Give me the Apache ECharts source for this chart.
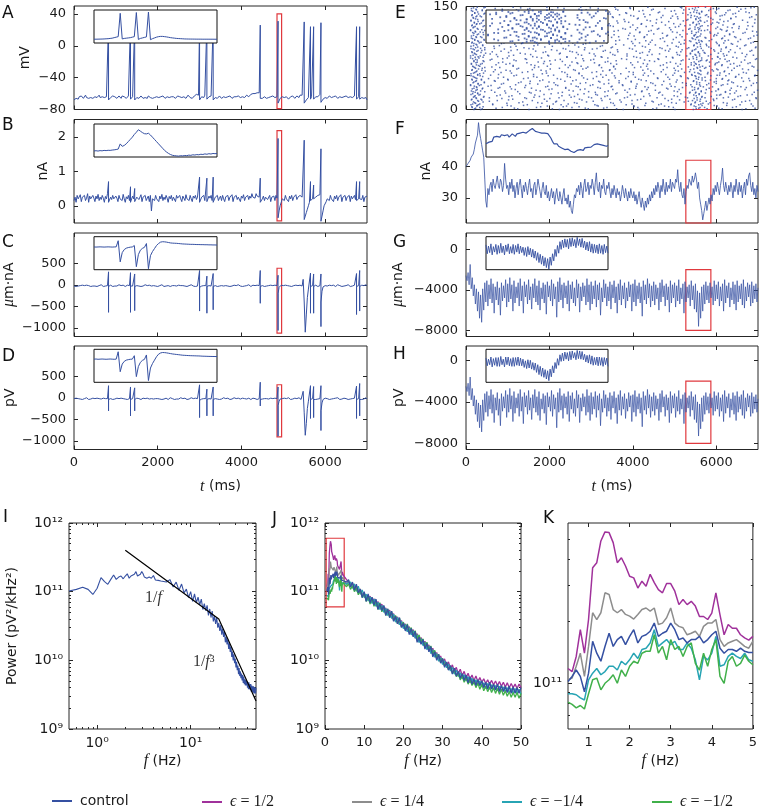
<!DOCTYPE html>
<html>
<head>
<meta charset="utf-8">
<script src="https://cdn.jsdelivr.net/npm/echarts@6.0.0/dist/echarts.min.js"></script>
<style>
html,body{margin:0;padding:0;background:#fff;}
#chart{width:760px;height:809px;}
</style>
</head>
<body>
<div id="chart"></div>
<script>
// ======================= DATA =======================
const DT = 25; // ms between samples of the time traces (0 .. 7000 ms)

// A: membrane potential (mV) between spikes; spikesA: [time ms, peak mV]
const vA = [
-68,-70,-66,-65,-67,-64,-66,-63,-65,-66,-64,-62,-65,-67,-66,-64,-65,-63,-66,-65,
-64,-66,-65,-63,-62,-65,-66,-64,-63,-65,-66,-64,-63,-68,-67,-65,-64,-63,-62,-64,
-65,-66,-64,-63,-65,-66,-63,-62,-64,-65,-66,-64,-63,-62,-67,-66,-64,-62,-68,-67,
-65,-64,-66,-65,-63,-64,-66,-67,-65,-64,-66,-63,-64,-65,-67,-66,-64,-65,-66,-64,
-63,-65,-66,-64,-65,-63,-64,-66,-65,-64,-63,-65,-66,-64,-62,-64,-65,-66,-64,-63,
-65,-64,-66,-65,-63,-64,-65,-66,-64,-62,-63,-65,-64,-66,-65,-63,-62,-61,-63,-62,
-68,-66,-64,-63,-65,-62,-63,-67,-66,-64,-65,-63,-64,-68,-67,-65,-64,-66,-65,-63,
-64,-66,-65,-64,-63,-65,-66,-64,-65,-63,-64,-66,-65,-64,-62,-64,-65,-63,-64,-65,
-66,-64,-63,-65,-64,-62,-63,-64,-62,-61,-62,-60,-59,-60,-58,-59,-60,-59,-66,-64,
-66,-65,-64,-65,-66,-64,-65,-66,-64,-65,-63,-64,-65,-66,-64,-72,-70,-66,-65,-64,
-63,-65,-66,-64,-65,-67,-66,-64,-65,-63,-64,-66,-65,-63,-64,-65,-62,-63,-62,-61,
-72,-70,-68,-67,-65,-63,-67,-64,-62,-67,-66,-64,-63,-64,-62,-61,-71,-69,-67,-66,
-65,-64,-66,-65,-63,-64,-65,-66,-64,-65,-63,-64,-66,-65,-64,-63,-65,-66,-64,-65,
-63,-64,-65,-66,-64,-63,-65,-64,-63,-62,-67,-65,-64,-67,-66,-65,-64,-66,-67,-65,-68];
const spikesA = [[825,30],[1350,30],[1450,30],[3000,30],[3175,30],[3325,30],[4450,26],[4875,31],[5500,30],[5650,24],[5725,24],[5900,29],[6750,24],[6825,24]];

// B: transmembrane current (nA); spikesB: [time, peak]
const vB = [
.15,.25,.1,.3,.2,.18,.32,.12,.25,.2,.3,.15,.22,.35,.1,.28,.2,.15,.3,.22,
.12,.28,.2,.33,.15,.25,.18,.3,.22,.1,.27,.2,.35,.1,.1,.25,.18,.3,.2,.15,
.28,.22,.12,.3,.2,.25,.15,.33,.2,.1,.26,.2,.3,.15,.1,.1,.28,.2,.12,.12,
.25,.3,.18,.22,.32,.12,.25,.2,.3,.15,.22,.28,.12,.3,-.15,.2,.25,.15,.3,.2,
.22,.12,.28,.2,.33,.15,.25,.18,.3,.22,.1,.27,.2,.3,.15,.25,.2,.12,.3,.22,
.18,.3,.2,.12,.28,.22,.15,.32,.2,.25,.15,.3,.2,.12,.28,.22,.3,.18,.25,.3,
.1,.1,.25,.2,.3,.15,.2,.12,.12,.28,.22,.3,.15,.1,.1,.25,.2,.3,.15,.22,
.28,.15,.3,.2,.12,.26,.22,.3,.15,.25,.2,.32,.12,.25,.22,.3,.18,.25,.2,.12,
.28,.22,.32,.15,.25,.2,.3,.18,.28,.22,.35,.25,.3,.22,.35,.28,.32,.25,.1,.1,
.2,.28,.15,.25,.3,.18,.22,.3,.12,.25,.2,.28,.15,.3,.22,-.35,-.15,0,.1,.2,
.25,.15,.3,.2,.22,.12,.28,.2,.3,.15,.25,.2,.32,.18,.25,.22,.3,.28,.25,.3,
-.4,-.3,-.2,-.1,0,.1,.15,.15,.2,.2,.2,.25,.22,.3,.28,.32,-.45,-.3,-.15,0,
.05,.12,.2,.25,.15,.3,.2,.22,.12,.28,.2,.3,.15,.25,.2,.32,.12,.25,.2,.3,
.15,.25,.22,.3,.12,.28,.2,.25,.3,.18,.15,.15,.2,.2,.25,.18,.3,.12,.25,.2,.28];
const spikesB = [[825,.7],[1350,.55],[1450,.5],[3000,.83],[3175,.8],[3325,.83],[4450,.8],[4875,1.95],[5500,1.9],[5650,.7],[5725,.6],[5900,1.65],[6750,.7],[6825,.7]];

// C: current dipole moment (um*nA); spikesC: [time, positive peak, negative peak]
const vC = [
-30,-10,-40,-20,-30,0,-20,-40,-10,-30,-20,-50,-10,-30,-20,0,-40,-20,-30,-10,
-30,-20,-40,-10,-20,-30,0,-20,-40,-10,-30,-20,-20,-40,-30,-10,-20,-40,-20,-30,
-10,-30,-20,0,-40,-20,-30,-10,-20,-40,-30,-10,-20,-20,-30,-20,-30,-20,-40,-40,
-20,-10,-30,-20,-40,-10,-30,-20,0,-30,-20,-40,-10,-20,-30,-50,-20,-10,-30,-20,
-40,-10,-20,-30,0,-20,-40,-20,-30,-10,-20,-30,-40,-10,-20,-30,-20,0,-30,-20,
-10,-30,-20,-40,-20,-10,-30,-20,-40,-10,-20,-30,0,-20,-30,-10,-40,-20,-30,-20,
-60,-80,-30,-10,-20,-30,-20,-40,-40,-20,-10,-30,-20,-40,-30,-20,-10,-40,-20,-30,
-10,-20,-40,-30,-10,-20,0,-30,-20,-40,-10,-30,-20,-10,-40,-20,-30,0,-20,-30,
-10,-40,-20,-30,-10,-20,-30,0,-20,-40,-20,-10,-30,-20,-40,-10,-20,-20,-40,-30,
-20,-10,-40,-20,-30,0,-20,-30,-10,-40,-20,-30,-10,-20,-20,-200,-60,-20,-10,-30,
-20,-40,-10,-30,-20,0,-30,-20,-40,-10,-20,-30,-10,-40,-20,-30,-10,-20,-30,125,
-400,-1100,-700,-300,-100,-60,-40,-40,-20,-40,-30,-10,-20,-40,-20,-20,-400,-150,-50,-20,
-20,0,-30,-20,-10,-40,-20,-30,-10,-20,-40,-20,0,-30,-20,-10,-40,-20,-30,-10,
-20,-30,0,-20,-40,-10,-30,-20,-10,-20,-40,-30,-20,-40,-20,-10,-40,-20,-30,0,-20];
const spikesC = [[825,300,-640],[1350,280,-640],[1450,250,-600],[3000,330,-610],[3175,200,-660],[3325,260,-580],[4450,330,-430],[4875,220,-1060],[5650,270,-660],[5725,250,-660],[5900,250,-970],[6750,260,-690],[6825,330,-610]];

// D: extracellular potential (pV); spikesD: [time, positive peak, negative peak]
const vD = [
-20,-40,-10,-30,-20,0,-30,-20,-40,-10,-20,-30,0,-20,-40,-10,-30,-20,-10,-30,
-20,-40,-10,-30,-20,0,-30,-20,-10,-40,-20,-30,-20,-40,-30,-20,-10,-40,-20,-30,
-20,-10,-30,-20,-40,-10,-30,-20,0,-30,-20,-40,-10,-20,-40,-40,-20,-20,-40,-30,
-10,-30,-20,0,-40,-20,-10,-30,-20,-40,-10,-20,-30,0,-20,-40,-30,-10,-20,-30,
-20,0,-30,-20,-40,-10,-30,-20,-10,-30,-40,-20,0,-30,-20,-10,-40,-20,-30,-10,
-30,-20,0,-40,-20,-30,-10,-20,-40,-10,-30,-20,0,-30,-20,-40,-10,-30,-20,-20,
-60,-60,-30,-10,-20,-40,-20,-40,-30,-20,-10,-30,-20,-40,-40,-20,-10,-30,-20,-40,
-10,-30,-20,0,-40,-20,-30,-10,-20,-40,-10,-30,-20,0,-30,-20,-40,-10,-20,-30,
-20,-10,-40,-20,0,-30,-20,-10,-30,-40,-20,-10,-30,-20,-10,-40,-20,-20,-40,-20,
-30,-10,-20,-40,-20,0,-30,-20,-10,-40,-20,-30,-10,-20,-20,-180,-80,-30,-10,-20,
-30,-10,-40,-20,-30,0,-20,-40,-10,-30,-20,-10,-40,-20,-30,0,-20,-40,-10,150,
-350,-870,-600,-250,-80,-50,-40,-30,-20,-40,-20,-40,-10,-30,-20,-20,-300,-120,-40,-20,
-10,-30,-20,0,-40,-20,-30,-10,-20,-40,-10,-30,0,-20,-40,-10,-30,-20,-10,-30,
-20,0,-40,-20,-30,-10,-20,-40,-10,-20,-40,-30,-20,-40,-20,-40,-10,-30,-20,0,-30];
const spikesD = [[825,280,-305],[1350,250,-420],[1450,230,-305],[3000,300,-460],[3175,200,-420],[3325,250,-420],[4450,360,-190],[4875,250,-890],[5650,280,-480],[5725,260,-460],[5900,280,-760],[6750,270,-480],[6825,330,-420]];

// F: summed synaptic current of the network (nA)
const vF = [
40,39.5,41,40.5,42,43,42.5,44,45.5,47.5,48,50,54,51,49,47,45,43,36,29,
27,33,31,34,35,32,36,34,33,35,37,34,33,36,35,32,34,41,36,33,
34,31,35,33,36,32,34,30,33,35,31,34,36,33,30,34,32,35,33,31,
34,36,32,33,30,34,35,31,33,36,34,32,30,33,35,32,31,34,30,32,
29,31,33,30,32,28,31,33,30,29,32,30,28,31,33,29,30,28,31,27,
29,26,25,28,31,30,33,32,34,31,35,33,30,34,36,32,33,35,31,34,
33,36,34,31,35,38,33,32,35,30,34,33,36,32,31,34,33,35,32,30,
33,31,34,32,30,33,31,32,29,31,34,32,30,33,31,29,32,30,33,31,
30,32,29,31,28,30,32,29,27,30,28,26,29,27,30,28,31,29,32,30,
33,31,34,32,35,33,30,34,32,36,33,31,35,32,34,33,36,32,35,34,
33,36,35,39,34,32,35,31,30,33,28,32,34,33,36,35,34,37,35,36,
38,36,33,35,30,28,26,23,25,27,29,26,28,30,28,31,29,33,31,34,
32,35,33,31,34,36,39.5,34,32,35,33,31,34,32,35,33,30,34,32,36,
33,31,35,32,34,30,33,35,31,36,34,37,38,34,32,35,31,33,30,34,32];

// G: network current dipole moment (um*nA)
const vG = [
-2600,-3100,-2300,-3500,-1500,-3900,-2800,-4600,-3500,-5400,-3900,-6100,-4200,-6800,-4500,-7200,-3900,-6000,-3300,-5200,
-3100,-5600,-3500,-4900,-2900,-5300,-3400,-6300,-3700,-5000,-3200,-5500,-3800,-6500,-3300,-5100,-3600,-4800,-3000,-5700,
-3400,-5200,-2800,-4900,-3500,-6100,-3100,-5300,-3700,-4800,-3300,-5600,-2900,-5100,-3600,-6300,-3200,-4700,-3500,-5400,
-3000,-5000,-3700,-5900,-3400,-4800,-2900,-5200,-3600,-5500,-3100,-6000,-3800,-4900,-3300,-5300,-3500,-6400,-3200,-4700,
-3600,-5100,-3000,-5600,-3400,-4900,-3700,-6700,-3200,-5200,-2800,-5000,-3500,-5800,-3300,-4800,-3600,-5400,-3100,-6100,
-3500,-4900,-3200,-5300,-3800,-5600,-3000,-4800,-3400,-6200,-3700,-5100,-3300,-4700,-3600,-5500,-2900,-5200,-3500,-6000,
-3200,-5400,-3600,-4900,-3100,-5700,-3500,-5000,-3300,-6500,-3800,-5200,-3000,-4800,-3400,-5600,-3700,-5100,-3200,-5900,
-3500,-4800,-3100,-5300,-3700,-6300,-3400,-5000,-3000,-5500,-3600,-4900,-3300,-5800,-3800,-5100,-3200,-4700,-3500,-6100,
-3400,-5200,-3000,-5600,-3600,-4900,-3300,-5300,-3700,-6600,-3100,-5000,-3500,-5400,-2900,-4800,-3400,-5700,-3600,-5100,
-3200,-5500,-3500,-4900,-3800,-6000,-3300,-5200,-3000,-4700,-3600,-5600,-3400,-5000,-3700,-6200,-3100,-5300,-3500,-4800,
-3300,-5700,-3600,-5100,-3000,-5400,-3800,-4900,-3400,-6300,-3200,-5200,-3700,-4800,-3500,-5600,-3100,-5000,-3600,-5900,
-3400,-6200,-4100,-7600,-4300,-6800,-3700,-6100,-3500,-5400,-3200,-5000,-3600,-5300,-3300,-4800,-3700,-5500,-3100,-5100,
-3500,-4900,-3200,-5600,-3700,-5100,-3400,-6100,-3000,-5300,-3600,-4800,-3300,-5700,-3800,-5000,-3200,-5400,-3500,-6000,
-3100,-5200,-3600,-4900,-3400,-5500,-3000,-5800,-3700,-5100,-3300,-4700,-3500,-5600,-3200,-5300,-3600,-4900,-3400,-5200,-3800];

// H: network extracellular potential (pV)
const vH = [
-2500,-3000,-2200,-3400,-1600,-3800,-2700,-4400,-3400,-5200,-3800,-5900,-4100,-6500,-4300,-6900,-3800,-5800,-3200,-5000,
-3000,-5400,-3400,-4700,-2800,-5100,-3300,-6000,-3600,-4800,-3100,-5300,-3700,-6300,-3200,-4900,-3500,-4600,-2900,-5500,
-3300,-5000,-2700,-4700,-3400,-5900,-3000,-5100,-3600,-4600,-3200,-5400,-2800,-4900,-3500,-6100,-3100,-4500,-3400,-5200,
-2900,-4800,-3600,-5700,-3300,-4600,-2800,-5000,-3500,-5300,-3000,-5800,-3700,-4700,-3200,-5100,-3400,-6200,-3100,-4500,
-3500,-4900,-2900,-5400,-3300,-4700,-3600,-6500,-3100,-5000,-2700,-4800,-3400,-5600,-3200,-4600,-3500,-5200,-3000,-5900,
-3400,-4700,-3100,-5100,-3700,-5400,-2900,-4600,-3300,-6000,-3600,-4900,-3200,-4500,-3500,-5300,-2800,-5000,-3400,-5800,
-3100,-5200,-3500,-4700,-3000,-5500,-3400,-4800,-3200,-6300,-3700,-5000,-2900,-4600,-3300,-5400,-3600,-4900,-3100,-5700,
-3400,-4600,-3000,-5100,-3600,-6100,-3300,-4800,-2900,-5300,-3500,-4700,-3200,-5600,-3700,-4900,-3100,-4500,-3400,-5900,
-3300,-5000,-2900,-5400,-3500,-4700,-3200,-5100,-3600,-6400,-3000,-4800,-3400,-5200,-2800,-4600,-3300,-5500,-3500,-4900,
-3100,-5300,-3400,-4700,-3700,-5800,-3200,-5000,-2900,-4500,-3500,-5400,-3300,-4800,-3600,-6000,-3000,-5100,-3400,-4600,
-3200,-5500,-3500,-4900,-2900,-5200,-3700,-4700,-3300,-6100,-3100,-5000,-3600,-4600,-3400,-5400,-3000,-4800,-3500,-5700,
-3300,-6000,-4000,-7300,-4200,-6600,-3600,-5900,-3400,-5200,-3100,-4800,-3500,-5100,-3200,-4600,-3600,-5300,-3000,-4900,
-3400,-4700,-3100,-5400,-3600,-4900,-3300,-5900,-2900,-5100,-3500,-4600,-3200,-5500,-3700,-4800,-3100,-5200,-3400,-5800,
-3000,-5000,-3500,-4700,-3300,-5300,-2900,-5600,-3600,-4900,-3200,-4500,-3400,-5400,-3100,-5100,-3500,-4700,-3300,-5000,-3700];

// Insets (magnified red-box windows), uniformly sampled across the inset width
const insA = [-65,-65,-64.8,-64.6,-64.4,-64,-63.5,-63,-62,-61,-59,-57,-55,37,-64,-62,-61,-60,-59,-57,
-55,40,-66,-62,-60,-58,-56,42,-67,-63,-60,-57,-55,-54,-54,-55,-56,-57.5,-59,-60,
-61,-62,-62.5,-63,-63.5,-64,-64.2,-64.4,-64.5,-64.6,-64.7,-64.8,-64.8,-64.9,-65,-65,-65,-65,-65.1,-65.1,
-65.2,-65.2];
const insB = [0.05,0.07,0.04,0.08,0.06,0.1,0.08,0.11,0.1,0.13,0.15,0.18,0.22,0.69,0.47,0.55,0.7,0.9,1.1,1.3,
1.55,1.75,1.98,1.85,1.72,1.62,1.6,1.66,1.5,1.3,1.1,0.9,0.7,0.5,0.3,0.1,-0.05,-0.18,-0.28,-0.35,
-0.38,-0.4,-0.42,-0.38,-0.4,-0.36,-0.38,-0.33,-0.35,-0.3,-0.32,-0.28,-0.3,-0.25,-0.27,-0.22,-0.25,-0.2,-0.23,-0.18,
-0.2,-0.18];
const insC = [-20,-25,-20,-15,-20,-25,-20,-15,-20,-25,-20,-15,290,-760,-300,-150,-80,-50,-30,-20,
50,-1000,-400,-180,-90,-40,150,-1100,-450,-250,-100,50,150,220,240,235,220,200,180,170,
165,160,150,140,130,125,120,115,110,110,105,100,100,95,95,90,90,85,85,80,
80,75];
const insD = [-20,-15,-25,-20,-15,-20,-25,-20,-15,-20,-25,-20,280,-530,-220,-110,-60,-40,-25,-20,
120,-730,-320,-150,-70,-30,150,-890,-380,-200,-60,80,180,230,250,245,235,220,205,190,
180,170,160,150,140,135,130,125,120,118,115,112,110,105,100,98,95,92,90,88,
87,85];
const insF = [30,29.5,31,32,31.5,34,33.5,34.5,35,34,35.5,36,35,34.5,35.5,34,35,36,35.5,34.5,
36,35,36.5,35.5,37,36,36.5,37.5,38,38.5,39.3,38.5,37.5,38,37,37.5,36.5,37,36.5,36,
36.2,35,33.5,31.5,30,29,30,28.5,28,27.5,28,26.5,27.5,26.8,26,25.5,26,24.7,25.5,26,
25,26.5,27,26,27.5,27,27.8,28.5,28,29,29.5,29,30,30.5,29.5,30,29,29.5,28.5,29];
const insG = [-3500,-5100,-3700,-4900,-3300,-5300,-3800,-4800,-3400,-5200,-3600,-5000,-3200,-4900,-3700,-5300,-3500,-4700,-3300,-5100,
-3800,-5000,-3400,-5200,-3600,-4800,-3300,-5100,-3700,-4900,-3900,-5400,-4000,-5600,-3800,-5300,-4100,-5700,-4300,-5900,
-4600,-6300,-4900,-6700,-5200,-7000,-5500,-7300,-5800,-7600,-6000,-7900,-5700,-7200,-5100,-6400,-4300,-5600,-3600,-5000,
-2900,-4300,-2600,-4000,-2400,-3900,-2500,-4200,-2300,-3800,-2200,-3700,-2500,-4000,-2100,-3600,-2400,-3900,-2300,-4000,
-2800,-4400,-3000,-4600,-2900,-4800,-3300,-5000,-3400,-4900,-3500,-5100,-3300,-5000,-3600,-5200,-3400,-4900,-3700,-5000];
const insH = [-3600,-5000,-3800,-4800,-3400,-5200,-3700,-4900,-3500,-5100,-3500,-5100,-3300,-4800,-3800,-5200,-3400,-4800,-3400,-5000,
-3700,-5100,-3500,-5100,-3500,-4900,-3400,-5000,-3600,-5000,-3800,-5300,-4100,-5500,-3900,-5400,-4000,-5600,-4400,-5800,
-4500,-6200,-4800,-6600,-5100,-6900,-5400,-7100,-5700,-7400,-5900,-7700,-5600,-7000,-5000,-6300,-4400,-5500,-3700,-4900,
-3000,-4200,-2700,-4100,-2500,-3800,-2600,-4100,-2400,-3900,-2300,-3600,-2600,-3900,-2200,-3700,-2300,-3800,-2400,-3900,
-2900,-4300,-3100,-4500,-3000,-4700,-3200,-4900,-3500,-4800,-3400,-5000,-3400,-4900,-3500,-5100,-3500,-4800,-3600,-5100];

// E: raster of 150 neurons, spike times (ms)
const rasterNeuron = [1,3,5,7,9,11,13,15,17,19,21,23,25,27,29,31,33,35,37,39,41,43,45,47,49,51,53,55,57,59,61,63,65,67,69,71,73,75,77,79,81,83,85,87,89,91,93,95,97,99,101,103,105,107,109,111,113,115,117,119,121,123,125,127,129,131,133,135,137,139,141,143,145,147,149,
0,2,4,6,8,10,12,14,16,18,20,22,24,26,28,30,32,34,36,38,40,42,44,46,48,50,52,54,56,58,60,62,64,66,68,70,72,74,76,78,80,82,84,86,88,90,92,94,96,98,100,102,104,106,108,110,112,114,116,118,120,122,124,126,128,130,132,134,136,138,140,142,144,146,148];
const rasterTimes = [
[210,390,1240,2070,2930,3610,4480,6140,5520,6710],[150,330,870,1690,2540,3380,4120,4970,5610,6390],
[260,1080,1950,2410,3170,4030,4760,5470,6020,6880],[120,300,640,1470,2280,3090,3840,4620,5390,5580,6570],
[230,980,1820,2660,3530,4310,5040,5680,6260],[180,410,1360,2150,2890,3720,4490,5230,5500,6610],
[280,750,1590,2350,3260,3980,4850,5430,5940,6800],[140,360,1120,1880,2720,3450,4190,4930,5620,6440],
[240,560,1410,2230,3010,3800,4580,5310,5540,6170,6950],[200,430,1030,1760,2600,3330,4260,5070,5660,6520],
[310,820,1650,2480,3150,3940,4710,5460,6080,6740],[160,280,1290,2040,2830,3590,4390,5150,5590,6330],
[220,690,1520,2310,3100,3870,4650,5370,5510,6220,6910],[130,350,930,1780,2570,3410,4220,4990,5640,6480],
[270,1180,1990,2740,3520,4340,5110,5480,6050,6690],[190,400,770,1570,2390,3220,4070,4810,5570,6360],
[250,1060,1910,2690,3480,4290,5010,5420,5690,6590],[110,320,600,1430,2200,2980,3760,4540,5280,6120,6840],
[290,850,1720,2520,3310,4100,4890,5530,6270],[170,440,1260,2110,2870,3670,4430,5190,5600,6410,6970],
[230,700,1540,2370,3180,3960,4740,5450,6000,6650],[150,370,1010,1840,2640,3420,4200,5060,5660,6300],
[260,540,1380,2190,3050,3830,4600,5330,5520,6150,6780],[200,900,1700,2500,3280,4060,4840,5580,6460],
[120,340,1150,1970,2780,3560,4370,5140,5490,6230,6920],[280,780,1620,2430,3230,4010,4790,5410,5630,6540],
[180,420,1090,1930,2710,3500,4280,5000,5560,6090,6720],[240,660,1480,2300,3130,3910,4680,5360,6190],
[140,380,960,1800,2620,3440,4240,5020,5610,6370,6990],[300,1220,2020,2800,3580,4360,5170,5460,6010,6630],
[210,450,810,1640,2450,3250,4040,4820,5540,6280],[160,330,1130,1950,2760,3540,4330,5080,5670,6500,6860],
[250,720,1560,2380,3200,3990,4730,5400,5590,6140],[130,390,1050,1860,2680,3470,4250,5030,5500,6420,6760],
[270,880,1730,2540,3340,4120,4900,5470,6060,6600],[190,410,1200,2010,2820,3600,4400,5160,5620,6310],
[230,620,1450,2260,3060,3850,4620,5350,5530,6210,6940],[110,310,990,1810,2630,3400,4180,4960,5650,6490],
[290,760,1600,2420,3240,4020,4800,5440,6030,6700],[170,430,1140,1960,2770,3570,4350,5120,5510,6250,6890],
[220,580,1420,2240,3070,3860,4640,5380,5600,6170],[150,360,1020,1850,2650,3460,4230,5050,5570,6450],
[260,840,1670,2490,3290,4080,4860,5420,6110,6810],[200,450,1230,2050,2840,3630,4410,5180,5480,6340],
[120,350,680,1510,2330,3140,3920,4700,5300,5640,6570],[280,1070,1890,2700,3510,4300,5090,5550,6240,6950],
[180,400,800,1630,2460,3270,4050,4830,5460,6070,6680],[240,1170,2000,2810,3590,4380,5150,5620,6390],
[140,320,910,1750,2560,3370,4160,4940,5520,6180,6830],[300,710,1550,2360,3190,3970,4760,5390,5660,6520],
[210,440,1280,2100,2900,3680,4460,5240,5580,6290],[160,600,1440,2270,3080,3880,4660,5440,6130,6770],
[250,380,1040,1870,2670,3490,4270,5040,5530,6470],[130,790,1610,2440,3260,4030,4810,5470,5610,6200,6900],
[270,420,1160,1980,2790,3550,4340,5130,5500,6320],[190,670,1500,2320,3120,3930,4710,5410,6040,6640],
[230,340,940,1770,2590,3390,4170,4950,5570,6410,6970],[110,450,1250,2080,2860,3650,4440,5200,5640,6260],
[290,560,1390,2210,3030,3820,4590,5340,5490,6100,6730],[170,870,1700,2510,3320,4110,4880,5560,6380],
[220,410,1100,1920,2730,3530,4320,5100,5620,6550,6870],[150,740,1580,2400,3210,4000,4780,5370,5520,6160],
[260,330,960,1790,2610,3430,4210,4980,5590,6430],[200,630,1460,2290,3110,3900,4690,5450,6020,6750],
[120,400,1190,2030,2850,3620,4420,5210,5630,6280],[280,520,1350,2180,3020,3790,4570,5320,5510,6090,6930],
[180,890,1740,2530,3350,4130,4910,5580,6350],[240,370,1080,1900,2720,3510,4290,5070,5540,6470,6850],
[140,650,1490,2340,3160,3950,4720,5400,6140],[300,430,990,1830,2650,3460,4260,5030,5600,6400],
[210,570,1400,2220,3040,3830,4610,5380,5530,6230,6790],[160,920,1760,2570,3360,4150,4920,5650,6540],
[250,390,1210,2060,2880,3640,4450,5220,5480,6330],[130,700,1530,2350,3170,3940,4770,5430,6060,6700],
[270,460,1130,1940,2750,3570,4360,5140,5570,6500,6910],
[190,350,1510,2240,3770,4150,5010,5450,6620],[230,720,1160,2860,3300,4570,5580,6060,6930],
[140,410,1790,2330,2710,4020,4860,5510,6480],[270,990,1380,3140,3560,4290,5660,6250],
[160,330,640,2090,2450,3980,4680,5400,5630,6840],[210,1270,1720,2600,3470,4930,5490,6170],
[300,560,1940,2170,3050,4460,5330,5610,6700],[130,380,1020,2780,3690,4110,5120,5540,6390],
[250,860,1450,2010,3240,4770,5470,6010,6960],[180,420,1630,2520,2940,3870,5260,5650,6290],
[220,740,1100,2300,3390,4410,4990,5520,6580],[120,340,1870,2680,3110,4050,5590,6110,6860],
[280,950,1560,2210,3620,4620,5360,5500,6440],[170,450,1240,2940,3330,4210,5070,5640,6220],
[240,610,1680,2470,3810,4540,5430,6330,6990],[150,390,1090,2060,2850,3920,4840,5560,6050],
[260,810,1410,2390,3160,4370,5190,5480,6720],[200,530,1960,2640,3500,4080,4920,5620,6510],
[110,360,1190,2150,3040,3750,4700,5390,5600,6160],[290,900,1530,2740,3420,4480,5280,6000,6890],
[190,440,1320,1990,3210,3960,5040,5530,6370],[250,680,1770,2560,3670,4320,5460,6280,6800],
[140,370,1000,2270,2910,4140,4880,5570,6140],[230,770,1490,2820,3580,4590,5310,5660,6610],
[170,400,1620,2430,3130,3890,5160,5510,6470],[280,590,1210,2100,3360,4250,4960,5420,6080,6930],
[120,330,1830,2710,3710,4500,5590,6310],[210,840,1350,2370,3020,4010,5240,5480,6650],
[260,460,1060,1920,3280,4430,5090,5630,6200],[150,700,1590,2580,3450,4730,5380,6040,6770],
[230,390,1260,2240,2880,3840,4990,5550,6430],[180,620,1740,2920,3540,4190,5330,5610,6900],
[300,1130,1650,2490,3190,4660,5470,6130,6560],[130,350,960,2030,3610,4350,5140,5520,6340],
[240,780,1460,2660,3080,3950,4810,5400,6020,6810],[190,430,1880,2310,3400,4520,5580,6260],
[270,580,1150,2140,2990,4280,5200,5650,6680],[160,880,1420,2800,3730,4600,5450,6090,6970],
[220,410,1700,2420,3260,4090,4950,5530,6400],[110,340,1030,1980,3100,3860,5290,5600,6190],
[250,730,1550,2690,3520,4460,5070,5490,6730],[200,470,1300,2260,2960,4170,5380,6050,6620],
[140,630,1910,2550,3640,4390,5150,5570,6300],[290,380,1080,2180,3340,4780,5430,5680,6850],
[170,920,1610,2390,3030,3990,4890,5510,6120],[230,450,1390,2850,3480,4650,5340,6230,6940],
[120,670,1200,2070,3220,4230,5040,5620,6500],[260,400,1720,2610,3780,4540,5470,6070,6710],
[190,850,1330,2280,2870,4000,5230,5540,6360],[150,360,990,1850,3150,4420,5110,5590,6890],
[280,570,1520,2730,3590,4310,5360,5640,6210],[210,430,1170,2110,3300,4060,4970,5500,6580],
[130,790,1780,2480,3070,4720,5420,6150,6820],[240,350,1040,2020,3660,4280,5180,5560,6440],
[180,600,1470,2570,3410,3900,4830,5470,6010,6980],[300,940,1640,2340,3230,4500,5300,5630,6320],
[160,410,1230,2190,2900,4160,5060,5520,6690],[220,710,1910,2640,3550,4380,5410,6240,6870],
[110,380,1120,1990,3000,4070,4910,5580,6130],[270,520,1570,2450,3760,4620,5370,5600,6540],
[190,830,1350,2230,3170,3940,5020,5490,6270],[140,440,1690,2760,3460,4470,5250,5660,6760],
[250,650,1070,2050,3090,4200,5140,5530,6410],[200,370,1820,2500,3640,4560,5440,6060,6920],
[290,760,1280,2360,2960,3810,4860,5570,6180],[120,420,1540,2620,3370,4340,5290,5610,6630],
[230,980,1400,2150,3250,4110,5080,5510,6350],[170,590,1740,2870,3530,4680,5390,5620,6800],
[260,340,1100,1960,3120,4020,4950,5480,6090],[150,800,1600,2420,3680,4410,5320,6200,6960],
[210,450,1250,2290,3010,3850,5200,5590,6460],[280,690,1860,2580,3440,4640,5460,5650,6710],
[130,390,1010,2080,3270,4240,5000,5540,6280],[240,870,1480,2710,3590,4490,5350,6010,6590],
[180,430,1310,2200,2980,3930,5170,5500,6830]];
// further spikes read in the 5.7-6.05 s window: [time, neuron]
const rasterExtra = [[5720,3],[5810,8],[5760,12],[5930,15],[5880,19],[5740,24],[5990,27],[5830,31],[5770,36],[5950,40],[5860,43],[5730,47],[6020,50],[5800,54],[5900,58],[5750,61],[5970,65],[5840,69],[5780,72],[6040,76],[5870,80],[5710,83],[5940,87],[5820,91],[5760,95],[6000,98],[5890,102],[5730,105],[5960,109],[5850,113],[5790,116],[6030,120],[5880,124],[5720,127],[5920,131],[5810,135],[5770,138],[5980,142],[5860,146],[5740,149],
[5780,1],[5950,6],[5850,10],[5730,17],[6010,21],[5890,26],[5760,29],[5910,33],[5820,38],[5740,42],[6000,45],[5870,49],[5790,52],[5930,56],[5720,60],[5840,63],[5980,67],[5760,71],[5900,74],[5810,78],[5730,82],[5960,85],[5880,89],[5770,93],[6020,96],[5830,100],[5750,104],[5940,107],[5860,111],[5720,115],[5990,118],[5800,122],[5910,126],[5780,129],[5870,133],[5740,137],[6000,140],[5820,144],[5930,147]];

// Power spectra (units of 1e9 pV^2/kHz^2); low band 0.5-5.0 Hz (0.1 Hz), high band 5.5-50 Hz (0.5 Hz)
const psdLowControl = [102,108,116,108,91,112,160,140,128,151,175,151,163,169,154,169,182,157,169,172,179,196,169,175,179,196,182,163,166,157,163,163,169,157,163,172,179,148,140,146,146,143,148,143,141,141];
const psdLowP12 = [118,114,135,182,140,204,364,385,491,543,539,482,385,407,371,331,325,290,313,296,338,308,285,275,305,305,280,241,255,241,250,237,211,211,204,219,275,215,172,193,185,185,172,166,162,169];
const psdLowP14 = [104,106,121,140,108,151,220,204,220,275,270,228,220,228,216,212,205,216,228,232,224,232,193,196,208,232,196,189,186,172,175,179,169,189,196,196,204,163,151,157,160,163,157,151,148,160];
const psdLowM14 = [89,89,88,85,83,104,112,118,110,114,121,121,116,128,123,130,140,132,146,148,157,182,151,157,163,154,160,146,146,157,148,130,104,135,130,140,169,121,123,135,140,135,132,140,130,128];
const psdLowM12 = [81,79,76,78,75,89,104,106,93,100,104,110,100,116,108,121,128,125,140,143,143,172,140,151,130,163,146,151,135,151,157,125,116,140,121,146,163,108,100,128,135,121,125,137,128,123];

const psdHighControl = [138,150,117,138,105,129,96,109,82,100, 72,93,69,83,64,78,55,67,53,63, 45,56,42,52,37,44,34,42,30,35,
26.8,33,23.7,29.1,22,26.5,18.3,22,17.1,20.2, 14.6,17.7,13.3,15.9,11.2,13.4,10,12.2,9.1,10.6, 7.9,9.5,7.2,8.4,6.3,7.7,5.9,6.9,5.5,6.4,
5.1,6.1,4.7,5.8,4.5,5.3,4.3,5.2,4.3,5.0, 4.0,4.8,3.8,4.8,3.8,4.5,3.7,4.5,3.5,4.3, 3.5,4.2,3.4,4.2,3.3,4.1,3.3,4.0,3.3,4.0];
const psdHighP12 = [150,138,140,128,130,112,118,100,104,88, 94,78,86,70,79,62,72,56,66,52, 58,46,54,41,48,37,43,33,38,30,
34,26.5,31,24,28,21,24.5,18.5,21.5,16.8, 19,14.5,16.8,12.8,15,11.3,13,10,11.6,9.1, 10.5,8.4,9.5,7.6,8.6,6.9,7.9,6.4,7.4,6.0,
6.9,5.6,6.5,5.3,6.1,5.1,5.9,4.9,5.6,4.8, 5.4,4.6,5.2,4.5,5.1,4.4,5.0,4.3,4.9,4.2, 4.8,4.1,4.7,4.0,4.6,4.0,4.5,3.9,4.5,4.0];
const psdHighP14 = [125,146,121,134,111,122,100,110,89,97, 78,89,72,81,65,73,59,66,53,60, 48,54,44,49,39,44,35,39,31,35,
28,31.5,25,28.5,22.5,25,19.8,21.8,17.5,19.6, 15.4,17.2,13.6,15,12,13.3,10.5,11.7,9.3,10.5, 8.3,9.3,7.4,8.3,6.7,7.5,6.1,6.9,5.6,6.4,
5.3,6.0,4.9,5.7,4.7,5.4,4.5,5.2,4.3,5.0, 4.1,4.8,4.0,4.6,3.9,4.5,3.8,4.4,3.7,4.3, 3.6,4.2,3.5,4.1,3.5,4.0,3.4,4.0,3.4,3.9];
const psdHighM14 = [130,122,138,112,130,101,120,92,106,82, 92,73,84,67,78,61,70,55,63,50, 57,45,52,41,47,36,42,33,37,29,
33,26,30,23.5,27,21,23.5,18.2,20.7,16.4, 18.3,14.4,16.2,12.5,14.3,11.1,12.5,9.7,11,8.7, 9.8,7.8,8.8,7.0,7.9,6.3,7.2,5.8,6.6,5.4,
6.2,5.0,5.8,4.7,5.5,4.5,5.2,4.3,5.0,4.1, 4.7,3.9,4.6,3.8,4.4,3.7,4.3,3.6,4.2,3.6, 4.1,3.5,4.0,3.4,3.9,3.3,3.9,3.3,3.8,3.2];
const psdHighM12 = [118,130,108,122,100,114,90,104,82,96, 72,88,66,82,61,76,55,69,51,62, 45,56,42,51,38,45,34,41,31,36,
28,34,25.5,30,23,27,20.5,23.5,18.5,20.5, 15.8,18.4,14,16.2,12.3,14,10.7,12.3,9.4,10.6, 8.3,9.4,7.3,8.1,6.4,7.3,5.8,6.5,5.2,5.9,
4.8,5.6,4.5,5.2,4.3,4.9,4.0,4.7,3.8,4.5, 3.6,4.2,3.5,4.1,3.4,4.0,3.3,3.9,3.2,3.8, 3.1,3.6,3.0,3.5,2.9,3.4,2.9,3.4,2.8,3.3];

// power-law guide in panel I: [f (Hz), power]
const fitLine = [[2, 4e11], [20, 4e10], [50, 2.56e9]];
const fitNotes = [{text: '1/{i|f}', f: 4.0, p: 8.1e10}, {text: '1/{i|f}\u00b3', f: 13.8, p: 9.6e9}];

// red boxes (data coordinates)
const boxLeftT = [4850, 4960];
const boxRightT = [5270, 5870];
const boxY = {A: [-79, 40], B: [-0.44, 2.18], C: [-1120, 383], D: [-907, 302], E: [0, 150], F: [22, 42], G: [-8000, -2000], H: [-8000, -2000]};
const boxJ = {f: [0.3, 4.9], p: [6e10, 6e11]};

const legendNames = ['control', '\u03f5 = 1/2', '\u03f5 = 1/4', '\u03f5 = \u22121/4', '\u03f5 = \u22121/2'];
const legendColors = ['#3550a2', '#a0319b', '#8d8d8d', '#27a4b4', '#40b04a'];

// ======================= BUILD =======================
const FONT = 'DejaVu Sans';
const SERIF = 'Liberation Serif';
const AXC = '#262626';
const TXT = '#1a1a1a';
const BLUE = '#3550a2';
const RED = '#e0393e';
const SUP = {'0':'\u2070','1':'\u00b9','2':'\u00b2','3':'\u00b3','4':'\u2074','5':'\u2075','6':'\u2076','7':'\u2077','8':'\u2078','9':'\u2079','-':'\u207b'};
const numFmt = v => String(v).replace('-', '\u2212');
const logFmt = v => '10' + String(Math.round(v)).split('').map(c => SUP[c]).join('');
const lg = Math.log10;
function minorLog(lo, hi) { const o = []; for (let n = Math.floor(lo); n < hi; n++) for (let k = 2; k <= 9; k++) { const v = n + lg(k); if (v > lo + 1e-9 && v < hi - 1e-9) o.push(v); } return o; }

const grids = [], xAxes = [], yAxes = [], series = [];

function axisDef(gi, a, pos, primary, tickList, len) {
  return {
    type: 'value', gridIndex: gi, position: pos, min: a.min, max: a.max,
    axisLine: {show: false, onZero: false},
    axisTick: {show: true, inside: true, length: len, customValues: tickList, lineStyle: {color: AXC, width: 1}},
    axisLabel: {show: primary && !!a.labels, customValues: tickList, formatter: a.fmt || numFmt,
      fontFamily: FONT, fontSize: a.fs || 13, color: TXT, margin: a.margin || 8},
    splitLine: {show: false},
    name: primary ? (a.name || '') : '', nameLocation: 'middle', nameGap: a.nameGap || 20,
    nameTextStyle: {fontFamily: FONT, fontSize: 14, color: TXT,
      rich: {i: {fontFamily: SERIF, fontStyle: 'italic', fontSize: 16, color: TXT}}}
  };
}
function panel(rect, x, y) {
  const gi = grids.length;
  grids.push({left: rect[0], top: rect[1], width: rect[2], height: rect[3], show: true, borderColor: AXC, borderWidth: 1, backgroundColor: 'rgba(0,0,0,0)', z: 0});
  const xi = xAxes.length, yi = yAxes.length;
  xAxes.push(axisDef(gi, x, 'bottom', true, x.ticks, 4));
  xAxes.push(axisDef(gi, x, 'top', false, x.ticks, 4));
  if (x.minor) { xAxes.push(axisDef(gi, x, 'bottom', false, x.minor, 2)); xAxes.push(axisDef(gi, x, 'top', false, x.minor, 2)); }
  yAxes.push(axisDef(gi, y, 'left', true, y.ticks, 4));
  yAxes.push(axisDef(gi, y, 'right', false, y.ticks, 4));
  if (y.minor) { yAxes.push(axisDef(gi, y, 'left', false, y.minor, 2)); yAxes.push(axisDef(gi, y, 'right', false, y.minor, 2)); }
  return {xi, yi};
}
function inset(rect, xr, yr) {
  const gi = grids.length;
  grids.push({left: rect[0], top: rect[1], width: rect[2], height: rect[3], show: true, borderColor: '#111', borderWidth: 1, backgroundColor: '#fff', z: 5});
  const xi = xAxes.length, yi = yAxes.length;
  xAxes.push({type: 'value', gridIndex: gi, min: xr[0], max: xr[1], show: false});
  yAxes.push({type: 'value', gridIndex: gi, min: yr[0], max: yr[1], show: false});
  return {xi, yi};
}
function boxArea(x0, x1, y0, y1) {
  return {silent: true, label: {show: false}, itemStyle: {color: 'rgba(0,0,0,0)', borderColor: RED, borderWidth: 1.2},
    data: [[{xAxis: x0, yAxis: y0}, {xAxis: x1, yAxis: y1}]]};
}
function trace(p, data, extra) {
  series.push(Object.assign({type: 'line', xAxisIndex: p.xi, yAxisIndex: p.yi, data: data, showSymbol: false, symbol: 'none',
    silent: true, animation: false, z: 2, lineStyle: {color: BLUE, width: 1}, itemStyle: {color: BLUE}}, extra || {}));
}
const timed = v => v.map((y, i) => [i * DT, y]);
const indexed = v => v.map((y, i) => [i, y]);
// a spike event at a sample time is drawn as vertical excursion(s) before the sample value
function withSpikes(v, spikes) {
  const ev = new Map(spikes.map(s => [s[0], s.slice(1)]));
  const out = [];
  v.forEach((y, i) => { const t = i * DT; const e = ev.get(t); if (e) e.forEach(p => out.push([t, p])); out.push([t, y]); });
  return out;
}

// layout
const LX = 74, LW = 293, RX = 466, RW = 292, RH = 103.5;
const TOPS = [6, 119.5, 233, 346];
const INS_TOPS = [10, 124, 236.7, 349.3];
const tTicks = [0, 2000, 4000, 6000];
const tAxis = (labels) => ({min: 0, max: 7000, ticks: tTicks, labels: labels, margin: 7,
  name: labels ? '{i|t} (ms)' : '', nameGap: 29});

// ---- left column
const pA = panel([LX, TOPS[0], LW, RH], tAxis(false), {min: -80, max: 50, ticks: [-80, -40, 0, 40], labels: true, name: 'mV', nameGap: 42});
trace(pA, withSpikes(vA, spikesA), {markArea: boxArea(boxLeftT[0], boxLeftT[1], boxY.A[0], boxY.A[1])});
const pB = panel([LX, TOPS[1], LW, RH], tAxis(false), {min: -0.5, max: 2.5, ticks: [0, 1, 2], labels: true, name: 'nA', nameGap: 24});
trace(pB, withSpikes(vB, spikesB), {markArea: boxArea(boxLeftT[0], boxLeftT[1], boxY.B[0], boxY.B[1])});
const pC = panel([LX, TOPS[2], LW, RH], tAxis(false), {min: -1200, max: 1200, ticks: [-1000, -500, 0, 500], labels: true, name: '{i|\u03bc}m\u00b7nA', nameGap: 57});
trace(pC, withSpikes(vC, spikesC), {markArea: boxArea(boxLeftT[0], boxLeftT[1], boxY.C[0], boxY.C[1])});
const pD = panel([LX, TOPS[3], LW, RH], tAxis(true), {min: -1200, max: 1200, ticks: [-1000, -500, 0, 500], labels: true, name: 'pV', nameGap: 57});
trace(pD, withSpikes(vD, spikesD), {markArea: boxArea(boxLeftT[0], boxLeftT[1], boxY.D[0], boxY.D[1])});

// ---- right column
const pE = panel([RX, TOPS[0], RW, RH], tAxis(false), {min: 0, max: 150, ticks: [0, 50, 100, 150], labels: true});
const rasterPts = [];
rasterTimes.forEach((row, k) => row.forEach(t => rasterPts.push([t, rasterNeuron[k]])));
rasterExtra.forEach(p => rasterPts.push(p));
series.push({type: 'scatter', xAxisIndex: pE.xi, yAxisIndex: pE.yi, data: rasterPts, symbol: 'rect', symbolSize: 1.5,
  itemStyle: {color: BLUE}, silent: true, animation: false, z: 2,
  markArea: boxArea(boxRightT[0], boxRightT[1], boxY.E[0], boxY.E[1])});
const pF = panel([RX, TOPS[1], RW, RH], tAxis(false), {min: 22, max: 55, ticks: [30, 40, 50], labels: true, name: 'nA', nameGap: 33});
trace(pF, timed(vF), {lineStyle: {color: BLUE, width: 0.9, opacity: 0.9}, markArea: boxArea(boxRightT[0], boxRightT[1], boxY.F[0], boxY.F[1])});
const pG = panel([RX, TOPS[2], RW, RH], tAxis(false), {min: -8600, max: 1600, ticks: [-8000, -4000, 0], labels: true, name: '{i|\u03bc}m\u00b7nA', nameGap: 60});
trace(pG, timed(vG), {lineStyle: {color: BLUE, width: 0.8, opacity: 0.9}, markArea: boxArea(boxRightT[0], boxRightT[1], boxY.G[0], boxY.G[1])});
const pH = panel([RX, TOPS[3], RW, RH], tAxis(true), {min: -8600, max: 1400, ticks: [-8000, -4000, 0], labels: true, name: 'pV', nameGap: 60});
trace(pH, timed(vH), {lineStyle: {color: BLUE, width: 0.8, opacity: 0.9}, markArea: boxArea(boxRightT[0], boxRightT[1], boxY.H[0], boxY.H[1])});

// ---- insets
const insTrace = (p, data, w) => trace(p, data, {z: 6, lineStyle: {color: BLUE, width: w || 1}});
insTrace(inset([94, INS_TOPS[0], 123, 33], [0, insA.length - 1], [-80, 50]), indexed(insA));
insTrace(inset([94, INS_TOPS[1], 123, 33], [0, insB.length - 1], [-0.5, 2.5]), indexed(insB));
insTrace(inset([94, INS_TOPS[2], 123, 33], [0, insC.length - 1], [-1150, 490]), indexed(insC));
insTrace(inset([94, INS_TOPS[3], 123, 33], [0, insD.length - 1], [-960, 380]), indexed(insD));
const iE = inset([486, INS_TOPS[0], 122, 33], boxRightT, [0, 150]);
series.push({type: 'scatter', xAxisIndex: iE.xi, yAxisIndex: iE.yi, symbol: 'rect', symbolSize: 1.8, itemStyle: {color: BLUE},
  data: rasterPts.filter(p => p[0] >= boxRightT[0] && p[0] <= boxRightT[1]), silent: true, animation: false, z: 6});
insTrace(inset([486, INS_TOPS[1], 122, 33], [0, insF.length - 1], [22, 42]), indexed(insF), 1.2);
insTrace(inset([486, INS_TOPS[2], 122, 33], [0, insG.length - 1], [-8000, -2000]), indexed(insG), 0.9);
insTrace(inset([486, INS_TOPS[3], 122, 33], [0, insH.length - 1], [-8000, -2000]), indexed(insH), 0.9);

// ---- spectra
const fLow = [], fHigh = [];
for (let i = 0; i < psdLowControl.length; i++) fLow.push(+(0.5 + 0.1 * i).toFixed(1));
for (let i = 0; i < psdHighControl.length; i++) fHigh.push(+(5.5 + 0.5 * i).toFixed(1));
const fAll = fLow.concat(fHigh);
const P = v => lg(v) + 9; // units of 1e9 -> log10 power
const specSets = [
  {name: legendNames[1], color: legendColors[1], low: psdLowP12, high: psdHighP12},
  {name: legendNames[2], color: legendColors[2], low: psdLowP14, high: psdHighP14},
  {name: legendNames[3], color: legendColors[3], low: psdLowM14, high: psdHighM14},
  {name: legendNames[4], color: legendColors[4], low: psdLowM12, high: psdHighM12},
  {name: legendNames[0], color: legendColors[0], low: psdLowControl, high: psdHighControl}
];
const logY = (labels) => ({min: 9, max: 12, ticks: [9, 10, 11, 12], minor: minorLog(9, 12), labels: labels, fmt: logFmt, fs: 14, margin: 6,
  name: labels ? 'Power (pV\u00b2/kHz\u00b2)' : '', nameGap: 50});
const fName = '{i|f} (Hz)';

// I
const pI = panel([69, 523, 187, 206],
  {min: lg(0.5), max: lg(50), ticks: [0, 1], minor: minorLog(lg(0.5), lg(50)), labels: true, fmt: logFmt, fs: 14, margin: 7, name: fName, nameGap: 24},
  logY(true));
const ctl = psdLowControl.concat(psdHighControl);
series.push({type: 'line', name: 'control', xAxisIndex: pI.xi, yAxisIndex: pI.yi, data: fAll.map((f, i) => [lg(f), P(ctl[i])]),
  showSymbol: false, symbol: 'none', silent: true, animation: false, z: 2, lineStyle: {color: BLUE, width: 1.1}, itemStyle: {color: BLUE}});
series.push({type: 'line', xAxisIndex: pI.xi, yAxisIndex: pI.yi, data: fitLine.map(d => [lg(d[0]), lg(d[1])]),
  showSymbol: false, symbol: 'none', silent: true, animation: false, z: 3, lineStyle: {color: '#000', width: 1.2}});
series.push({type: 'scatter', xAxisIndex: pI.xi, yAxisIndex: pI.yi, symbolSize: 0, silent: true, animation: false, z: 4,
  data: fitNotes.map(n => ({value: [lg(n.f), lg(n.p)], label: {formatter: n.text}})),
  label: {show: true, position: 'inside', fontFamily: SERIF, fontSize: 16, color: '#000',
    rich: {i: {fontFamily: SERIF, fontStyle: 'italic', fontSize: 16, color: '#000'}}}});

// J
const pJ = panel([325, 523, 196, 206],
  {min: 0, max: 50, ticks: [0, 10, 20, 30, 40, 50], labels: true, margin: 7, name: fName, nameGap: 24},
  Object.assign(logY(true), {name: ''}));
specSets.forEach((s, k) => {
  const v = s.low.concat(s.high);
  series.push({type: 'line', name: s.name, xAxisIndex: pJ.xi, yAxisIndex: pJ.yi, data: fAll.map((f, i) => [f, P(v[i])]),
    showSymbol: false, symbol: 'none', silent: true, animation: false, z: 2 + k * 0.01,
    lineStyle: {color: s.color, width: 1.3}, itemStyle: {color: s.color},
    markArea: k === 4 ? boxArea(boxJ.f[0], boxJ.f[1], lg(boxJ.p[0]), lg(boxJ.p[1])) : undefined});
});

// K
const kMin = lg(6e10), kMax = lg(6e11);
const pK = panel([568, 523, 188, 206],
  {min: 0.5, max: 5, ticks: [1, 2, 3, 4, 5], labels: true, margin: 7, name: fName, nameGap: 24},
  {min: kMin, max: kMax, ticks: [11], minor: minorLog(kMin, kMax), labels: true, fmt: logFmt, fs: 14, margin: 6});
specSets.forEach((s, k) => {
  series.push({type: 'line', name: s.name, xAxisIndex: pK.xi, yAxisIndex: pK.yi, data: fLow.map((f, i) => [f, P(s.low[i])]),
    showSymbol: false, symbol: 'none', silent: true, animation: false, z: 2 + k * 0.01,
    lineStyle: {color: s.color, width: 1.5}, itemStyle: {color: s.color}});
});

// panel letters
const letters = [['A', 2, 5], ['B', 2, 117], ['C', 2, 234], ['D', 2, 348], ['E', 395, 5], ['F', 395, 121], ['G', 393, 234], ['H', 393, 346],
  ['I', 3, 509], ['J', 272, 511], ['K', 543, 510]];

const legends = legendNames.map((n, i) => ({
  data: [n], left: 52 + 150 * i, top: 794, icon: 'rect', itemWidth: 20, itemHeight: 2, itemGap: 0, padding: 0, selectedMode: false,
  formatter: i === 0 ? '{name}' : (nm => '{e|\u03f5}' + nm.slice(1)),
  textStyle: i === 0 ? {fontFamily: FONT, fontSize: 14, color: TXT, padding: [0, 0, 0, 3]}
    : {fontFamily: SERIF, fontSize: 16, color: TXT, padding: [0, 0, 0, 3], rich: {e: {fontFamily: SERIF, fontStyle: 'italic', fontSize: 16, color: TXT}}}
}));

const chart = echarts.init(document.getElementById('chart'), null, {renderer: 'canvas'});
chart.setOption({
  animation: false,
  backgroundColor: '#fff',
  title: letters.map(l => ({text: l[0], left: l[1], top: l[2], padding: 0, textStyle: {fontFamily: FONT, fontSize: 17, fontWeight: 'normal', color: '#111'}})),
  legend: legends,
  grid: grids, xAxis: xAxes, yAxis: yAxes, series: series
});
</script>
</body>
</html>
